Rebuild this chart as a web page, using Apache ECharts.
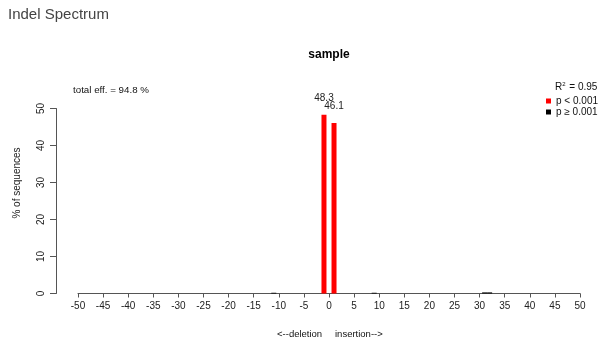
<!DOCTYPE html>
<html><head><meta charset="utf-8">
<script src="https://cdn.jsdelivr.net/npm/echarts@6/dist/echarts.min.js"></script>
<style>html,body{margin:0;padding:0;background:#fff}#c{width:605px;height:345px}</style>
</head><body><div id="c"></div>
<script>
// indel sizes and % of sequences
const sigIndels = [-1, 1];
const sigValues = [48.3, 46.1];
const nsIndels = [-11, 9, 31, 32];
const nsValues = [0.2, 0.2, 0.3, 0.3];
const xTicks = [-50,-45,-40,-35,-30,-25,-20,-15,-10,-5,0,5,10,15,20,25,30,35,40,45,50];
const yTicks = [0,10,20,30,40,50];
const totalEff = 94.8;
const r2 = 0.95;

const font = 'Liberation Sans, Arial, Helvetica, sans-serif';
const chart = echarts.init(document.getElementById('c'), null, {renderer:'canvas'});
chart.setOption({
  animation:false,
  backgroundColor:'#fff',
  textStyle:{fontFamily:font},
  title:[
    {text:'Indel Spectrum', left:8, top:7, padding:0, textStyle:{fontSize:15, fontWeight:'normal', color:'#444', fontFamily:font}},
    {text:'sample', left:329, top:49, padding:0, textAlign:'center', textStyle:{fontSize:12, fontWeight:'bold', color:'#000', fontFamily:font}}
  ],
  legend:{
    right:7, top:96, orient:'vertical', icon:'rect', itemWidth:5, itemHeight:5, itemGap:1, padding:0,
    textStyle:{fontSize:10, color:'#111', fontFamily:font},
    data:['p < 0.001','p \u2265 0.001']
  },
  graphic:[
    {type:'text', left:73, top:85, style:{text:'total eff. = ' + totalEff + ' %', font:'9.75px '+font, fill:'#111'}},
    {type:'text', left:555, top:81, style:{text:'{a|R}{s|2}{a| = ' + r2 + '}', rich:{a:{font:'10px '+font, fill:'#111'}, s:{font:'6px '+font, fill:'#111', verticalAlign:'top', padding:[0,1,6,0]}}}},
    {type:'text', left:277, top:329, style:{text:'<--deletion', font:'9.5px '+font, fill:'#111'}},
    {type:'text', left:335, top:329, style:{text:'insertion-->', font:'9.5px '+font, fill:'#111'}},
    {type:'text', x:17, y:183, rotation:Math.PI/2, style:{text:'% of sequences', font:'10px '+font, fill:'#222', align:'center', verticalAlign:'middle'}}
  ],
  grid:[
    {left:78, right:25, top:108.5, bottom:51.5, containLabel:false},
    {left:56, width:1, top:108.5, bottom:51.5, containLabel:false}
  ],
  xAxis:[
    {gridIndex:0, type:'value', min:-50, max:50, interval:5,
      axisLine:{show:true, onZero:false, lineStyle:{color:'#555', width:1}},
      axisTick:{show:true, length:4, lineStyle:{color:'#555'}},
      axisLabel:{fontSize:10, color:'#222', margin:8, fontFamily:font,
        formatter:v=>xTicks.includes(v)?String(v):''},
      splitLine:{show:false}},
    {gridIndex:1, type:'value', min:0, max:1, show:false}
  ],
  yAxis:[
    {gridIndex:0, type:'value', min:0, max:50, interval:10, show:false},
    {gridIndex:1, type:'value', min:0, max:50, interval:10,
      axisLine:{show:true, onZero:false, lineStyle:{color:'#555', width:1}},
      axisTick:{show:true, length:6, lineStyle:{color:'#555'}},
      axisLabel:{fontSize:10, color:'#222', rotate:90, margin:10, fontFamily:font,
        formatter:v=>yTicks.includes(v)?String(v):''},
      splitLine:{show:false}}
  ],
  series:[
    {name:'p < 0.001', type:'bar', xAxisIndex:0, yAxisIndex:0, barWidth:5, barGap:'-100%', itemStyle:{color:'#ff0000'},
      data:sigIndels.map((x,i)=>[x, sigValues[i]]),
      label:{show:true, position:'top', distance:12, fontSize:10, color:'#222', fontFamily:font,
        formatter:p=>p.value[1].toFixed(1)}},
    {name:'p \u2265 0.001', type:'bar', xAxisIndex:0, yAxisIndex:0, barWidth:5, barGap:'-100%', itemStyle:{color:'#000'},
      data:nsIndels.map((x,i)=>[x, nsValues[i]])}
  ]
});
</script></body></html>
